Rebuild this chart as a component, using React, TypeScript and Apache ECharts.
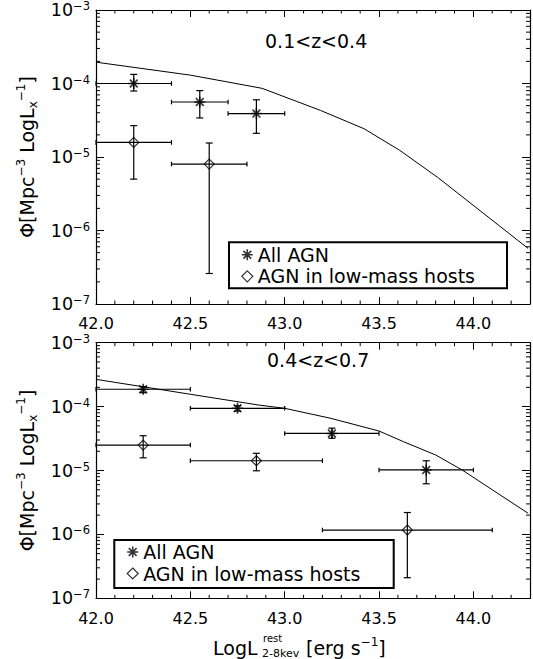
import React, { useEffect, useRef } from 'react';
import * as echarts from 'echarts';

// ---------- axis ranges & tick values ----------
const X_MIN = 42.0;
const X_MAX = 44.3;
const Y_MIN = 1e-7;
const Y_MAX = 1e-3;
const X_MINOR = [42.1, 42.2, 42.3, 42.4, 42.6, 42.7, 42.8, 42.9, 43.1, 43.2, 43.3, 43.4, 43.6, 43.7, 43.8, 43.9, 44.1, 44.2];
const Y_DECADES = [1e-7, 1e-6, 1e-5, 1e-4];
const Y_MINOR_MULT = [2, 3, 4, 5, 6, 7, 8, 9];

// ---------- panel 1 : 0.1<z<0.4 ----------
const P1_LABEL = '0.1<z<0.4';
const P1_ALL_X = [42.2, 42.55, 42.85];
const P1_ALL_Y = [1.0e-4, 5.6e-5, 3.9e-5];
const P1_ALL_XLO = [42.0, 42.4, 42.7];
const P1_ALL_XHI = [42.4, 42.7, 43.0];
const P1_ALL_YLO = [7.9e-5, 3.4e-5, 2.1e-5];
const P1_ALL_YHI = [1.33e-4, 8.0e-5, 6.0e-5];

const P1_LOW_X = [42.2, 42.6];
const P1_LOW_Y = [1.58e-5, 8.0e-6];
const P1_LOW_XLO = [42.0, 42.4];
const P1_LOW_XHI = [42.4, 42.8];
const P1_LOW_YLO = [5.0e-6, 2.6e-7];
const P1_LOW_YHI = [2.67e-5, 1.55e-5];

const P1_CURVE_X = [42.0, 42.5, 42.88, 43.19, 43.42, 43.61, 43.81, 44.29];
const P1_CURVE_Y = [1.95e-4, 1.3e-4, 8.6e-5, 4.3e-5, 2.43e-5, 1.23e-5, 5.3e-6, 5.7e-7];

// ---------- panel 2 : 0.4<z<0.7 ----------
const P2_LABEL = '0.4<z<0.7';
const P2_ALL_X = [42.25, 42.75, 43.25, 43.75];
const P2_ALL_Y = [1.87e-4, 9.4e-5, 3.8e-5, 1.02e-5];
const P2_ALL_XLO = [42.0, 42.5, 43.0, 43.5];
const P2_ALL_XHI = [42.5, 43.0, 43.5, 44.0];
const P2_ALL_YLO = [1.65e-4, 8.5e-5, 3.2e-5, 6.2e-6];
const P2_ALL_YHI = [2.05e-4, 1.03e-4, 4.6e-5, 1.42e-5];

const P2_LOW_X = [42.25, 42.85, 43.65];
const P2_LOW_Y = [2.5e-5, 1.42e-5, 1.17e-6];
const P2_LOW_XLO = [42.0, 42.5, 43.2];
const P2_LOW_XHI = [42.5, 43.2, 44.1];
const P2_LOW_YLO = [1.58e-5, 9.9e-6, 2.1e-7];
const P2_LOW_YHI = [3.5e-5, 1.86e-5, 2.2e-6];

const P2_CURVE_X = [42.0, 42.5, 42.86, 43.0, 43.24, 43.5, 43.63, 43.8, 43.94, 44.29];
const P2_CURVE_Y = [2.67e-4, 1.56e-4, 1.06e-4, 9.4e-5, 6.6e-5, 4.15e-5, 2.82e-5, 1.75e-5, 1.02e-5, 2.14e-6];

const NAME_ALL = 'All AGN';
const NAME_LOW = 'AGN in low-mass hosts';

const FONT = 'DejaVu Sans';
const STAR = 'path://M0,-10L0,10M-10,0L10,0M-7.07,-7.07L7.07,7.07M-7.07,7.07L7.07,-7.07';

function zip(a: number[], b: number[]) {
  return a.map((v, i) => [v, b[i]]);
}
function errRows(x: number[], y: number[], xlo: number[], xhi: number[], ylo: number[], yhi: number[]) {
  return x.map((v, i) => [v, y[i], xlo[i], xhi[i], ylo[i], yhi[i]]);
}

const errRender = (params: any, api: any) => {
  const x = api.value(0), y = api.value(1);
  const xlo = api.value(2), xhi = api.value(3), ylo = api.value(4), yhi = api.value(5);
  const a = api.coord([xlo, y]);
  const b = api.coord([xhi, y]);
  const c = api.coord([x, ylo]);
  const d = api.coord([x, yhi]);
  const st = { stroke: '#000', lineWidth: 1.2 };
  const ln = (x1: number, y1: number, x2: number, y2: number) => ({ type: 'line', shape: { x1, y1, x2, y2 }, style: st });
  const ch = 2.3, cw = 3.5;
  return {
    type: 'group',
    children: [
      ln(a[0], a[1], b[0], b[1]),
      ln(a[0], a[1] - ch, a[0], a[1] + ch),
      ln(b[0], b[1] - ch, b[0], b[1] + ch),
      ln(c[0], c[1], d[0], d[1]),
      ln(c[0] - cw, c[1], c[0] + cw, c[1]),
      ln(d[0] - cw, d[1], d[0] + cw, d[1]),
    ],
  };
};

const yMinorRender = (params: any, api: any) => {
  const cs = params.coordSys;
  const py = api.coord([X_MIN, api.value(1)])[1];
  const st = { stroke: '#000', lineWidth: 1 };
  return {
    type: 'group',
    children: [
      { type: 'line', shape: { x1: cs.x, y1: py, x2: cs.x + 4, y2: py }, style: st },
      { type: 'line', shape: { x1: cs.x + cs.width - 4, y1: py, x2: cs.x + cs.width, y2: py }, style: st },
    ],
  };
};
const xMinorRender = (params: any, api: any) => {
  const cs = params.coordSys;
  const px = api.coord([api.value(0), 1e-5])[0];
  const st = { stroke: '#000', lineWidth: 1 };
  return {
    type: 'group',
    children: [
      { type: 'line', shape: { x1: px, y1: cs.y + cs.height, x2: px, y2: cs.y + cs.height - 3.5 }, style: st },
      { type: 'line', shape: { x1: px, y1: cs.y, x2: px, y2: cs.y + 3.5 }, style: st },
    ],
  };
};

const Y_MINOR: number[] = [];
Y_DECADES.forEach((d) => Y_MINOR_MULT.forEach((m) => Y_MINOR.push(d * m)));

function xAxes(grid: number, labelMargin: number) {
  const base = {
    gridIndex: grid,
    type: 'value',
    min: X_MIN,
    max: X_MAX,
    interval: 0.5,
    splitLine: { show: false },
    axisLine: { show: true, onZero: false, lineStyle: { color: '#000', width: 1.2 } },
    axisTick: { show: true, inside: true, length: 7, lineStyle: { color: '#000', width: 1 } },
  };
  return [
    {
      ...base,
      position: 'bottom',
      axisLabel: {
        show: true,
        margin: labelMargin,
        color: '#000',
        fontFamily: FONT,
        fontSize: 16,
        formatter: (v: number) => (Math.abs(v * 2 - Math.round(v * 2)) < 1e-6 ? v.toFixed(1) : ''),
      },
    },
    { ...base, position: 'top', axisLabel: { show: false } },
  ];
}

function yAxes(grid: number) {
  const base = {
    gridIndex: grid,
    type: 'log',
    logBase: 10,
    min: Y_MIN,
    max: Y_MAX,
    splitLine: { show: false },
    axisLine: { show: true, onZero: false, lineStyle: { color: '#000', width: 1.2 } },
    axisTick: { show: true, inside: true, length: 8, lineStyle: { color: '#000', width: 1 } },
  };
  return [
    {
      ...base,
      position: 'left',
      name: '{n|Φ[Mpc}{p|−3}{n| LogL}{b|x}{p|−1}{n|]}',
      nameLocation: 'middle',
      nameRotate: 90,
      nameGap: 57,
      nameTextStyle: {
        rich: {
          n: { fontFamily: FONT, fontSize: 19, lineHeight: 24, color: '#000' },
          p: { fontFamily: FONT, fontSize: 12, lineHeight: 12, verticalAlign: 'top', color: '#000' },
          b: { fontFamily: FONT, fontSize: 12, lineHeight: 12, verticalAlign: 'bottom', color: '#000' },
        },
      },
      axisLabel: {
        show: true,
        margin: 6,
        formatter: (v: number) => `{b|10}{s|${'−' + Math.round(-Math.log10(v))}}`,
        rich: {
          b: { fontFamily: FONT, fontSize: 17.5, lineHeight: 20, color: '#000' },
          s: { fontFamily: FONT, fontSize: 11.5, lineHeight: 12, verticalAlign: 'top', color: '#000' },
        },
      },
    },
    { ...base, position: 'right', axisLabel: { show: false } },
  ];
}

function panelSeries(
  xi: number,
  yi: number,
  curve: number[][],
  allPts: number[][],
  lowPts: number[][],
  allErr: number[][],
  lowErr: number[][]
) {
  return [
    {
      type: 'line',
      name: 'model',
      xAxisIndex: xi,
      yAxisIndex: yi,
      data: curve,
      showSymbol: false,
      symbol: 'none',
      lineStyle: { color: '#000', width: 1 },
      clip: true,
      silent: true,
      z: 2,
    },
    {
      type: 'custom',
      xAxisIndex: xi,
      yAxisIndex: yi,
      renderItem: errRender,
      data: allErr.concat(lowErr),
      encode: { x: 0, y: 1 },
      silent: true,
      z: 3,
    },
    {
      type: 'scatter',
      name: NAME_ALL,
      xAxisIndex: xi,
      yAxisIndex: yi,
      data: allPts,
      symbol: STAR,
      symbolSize: 11,
      itemStyle: { color: 'transparent', borderColor: '#000', borderWidth: 1.6 },
      silent: true,
      z: 4,
    },
    {
      type: 'scatter',
      name: NAME_LOW,
      xAxisIndex: xi,
      yAxisIndex: yi,
      data: lowPts,
      symbol: 'diamond',
      symbolSize: 10,
      itemStyle: { color: 'transparent', borderColor: '#000', borderWidth: 1.2 },
      silent: true,
      z: 4,
    },
    {
      type: 'custom',
      xAxisIndex: xi,
      yAxisIndex: yi,
      renderItem: yMinorRender,
      data: Y_MINOR.map((v) => [X_MIN + 1, v]),
      encode: { x: 0, y: 1 },
      silent: true,
      z: 5,
    },
    {
      type: 'custom',
      xAxisIndex: xi,
      yAxisIndex: yi,
      renderItem: xMinorRender,
      data: X_MINOR.map((v) => [v, 1e-5]),
      encode: { x: 0, y: 1 },
      silent: true,
      z: 5,
    },
  ];
}

function legendFor(left: number, top: number, padding: number[]) {
  return {
    left,
    top,
    orient: 'vertical',
    padding,
    itemGap: 1.5,
    itemWidth: 11,
    itemHeight: 11,
    borderColor: '#000',
    borderWidth: 2,
    borderRadius: 0,
    selectedMode: false,
    textStyle: { fontFamily: FONT, fontSize: 19, lineHeight: 20, color: '#000' },
    data: [
      { name: NAME_ALL, icon: STAR, itemStyle: { color: 'transparent', borderColor: '#000', borderWidth: 1.6 } },
      { name: NAME_LOW, icon: 'diamond', itemStyle: { color: 'transparent', borderColor: '#000', borderWidth: 1.2 } },
    ],
  };
}

export default function App() {
  const ref = useRef<HTMLDivElement>(null);
  useEffect(() => {
    if (!ref.current) return;
    const chart = echarts.init(ref.current, undefined, { renderer: 'svg' });
    const option: any = {
      animation: false,
      backgroundColor: '#fff',
      grid: [
        { left: 96, top: 9.5, width: 436, height: 294.5 },
        { left: 96, top: 342.7, width: 436, height: 255.6 },
      ],
      xAxis: [...xAxes(0, 11), ...xAxes(1, 12)],
      yAxis: [...yAxes(0), ...yAxes(1)],
      legend: [legendFor(229, 242.3, [2.5, 32, 2, 12]), legendFor(114.3, 540, [2, 33.3, 4.5, 12.1])],
      series: [
        ...panelSeries(
          0,
          0,
          zip(P1_CURVE_X, P1_CURVE_Y),
          zip(P1_ALL_X, P1_ALL_Y),
          zip(P1_LOW_X, P1_LOW_Y),
          errRows(P1_ALL_X, P1_ALL_Y, P1_ALL_XLO, P1_ALL_XHI, P1_ALL_YLO, P1_ALL_YHI),
          errRows(P1_LOW_X, P1_LOW_Y, P1_LOW_XLO, P1_LOW_XHI, P1_LOW_YLO, P1_LOW_YHI)
        ),
        ...panelSeries(
          2,
          2,
          zip(P2_CURVE_X, P2_CURVE_Y),
          zip(P2_ALL_X, P2_ALL_Y),
          zip(P2_LOW_X, P2_LOW_Y),
          errRows(P2_ALL_X, P2_ALL_Y, P2_ALL_XLO, P2_ALL_XHI, P2_ALL_YLO, P2_ALL_YHI),
          errRows(P2_LOW_X, P2_LOW_Y, P2_LOW_XLO, P2_LOW_XHI, P2_LOW_YLO, P2_LOW_YHI)
        ),
      ],
      graphic: [
        { type: 'text', left: 265, top: 31, style: { text: P1_LABEL, fontFamily: FONT, fontSize: 19, fill: '#000' } },
        { type: 'text', left: 267, top: 350, style: { text: P2_LABEL, fontFamily: FONT, fontSize: 19, fill: '#000' } },
        { type: 'text', x: 213, y: 648, style: { text: 'LogL', fontFamily: FONT, fontSize: 19, fill: '#000', verticalAlign: 'middle' } },
        { type: 'text', x: 263, y: 638, style: { text: 'rest', fontFamily: FONT, fontSize: 10, fill: '#000', verticalAlign: 'middle' } },
        { type: 'text', x: 262, y: 653, style: { text: '2-8kev', fontFamily: FONT, fontSize: 11, fill: '#000', verticalAlign: 'middle' } },
        {
          type: 'text',
          x: 306,
          y: 648,
          style: {
            text: '{n|[erg s}{p|−1}{n|]}',
            verticalAlign: 'middle',
            rich: {
              n: { fontFamily: FONT, fontSize: 19, lineHeight: 24, fill: '#000', color: '#000' },
              p: { fontFamily: FONT, fontSize: 12, lineHeight: 12, verticalAlign: 'top', fill: '#000', color: '#000' },
            },
          },
        },
      ],
    };
    chart.setOption(option);
    return () => chart.dispose();
  }, []);
  return <div ref={ref} style={{ position: 'absolute', left: 0, top: 0, width: 533, height: 659 }} />;
}
